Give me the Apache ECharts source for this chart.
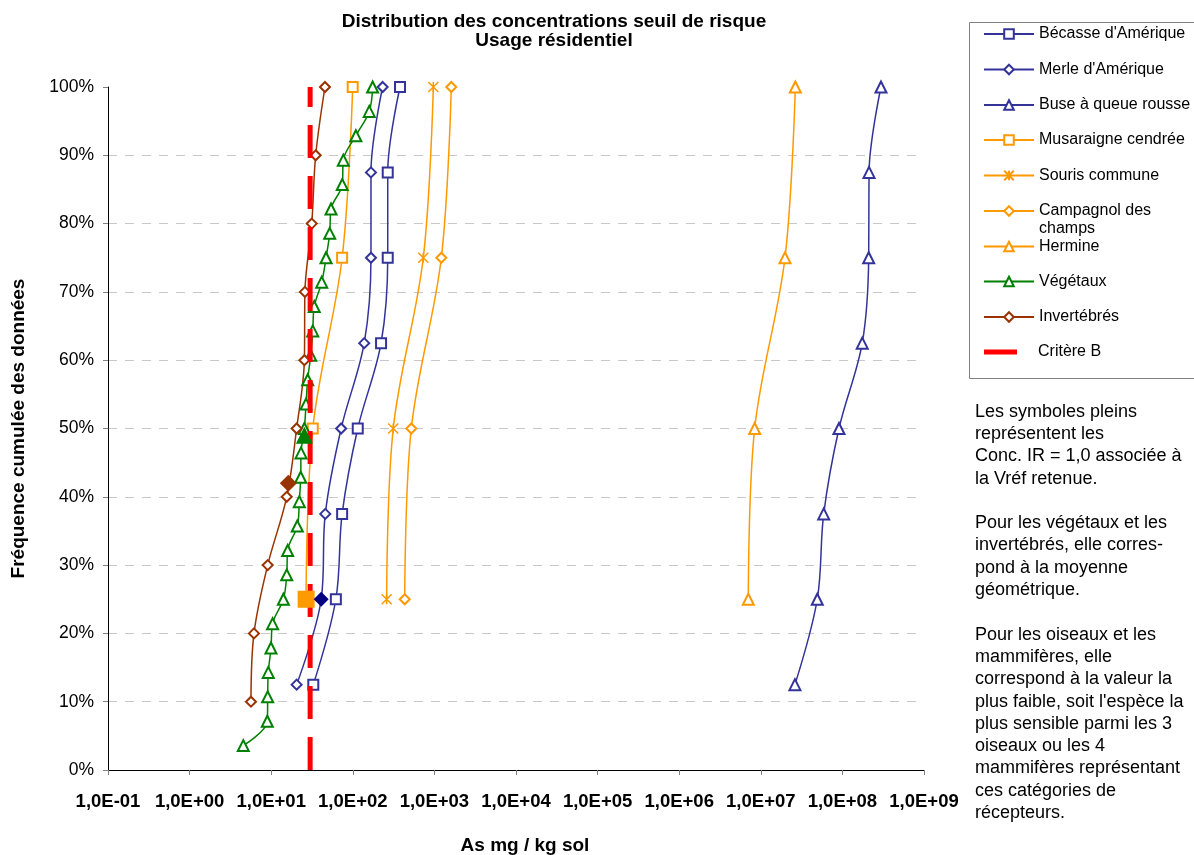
<!DOCTYPE html>
<html><head><meta charset="utf-8">
<script src="https://cdn.jsdelivr.net/npm/echarts@6/dist/echarts.min.js"></script>
<style>html,body{margin:0;padding:0;background:#fff}#c{width:1194px;height:855px}</style>
</head><body><div id="c"></div>
<script>
// ---------------- DATA ----------------
const freqBirds = [12.5, 25, 37.5, 50, 62.5, 75, 87.5, 100];
const becasse   = [32.8, 62, 74, 115, 222, 268, 268, 379];
const merle     = [20.5, 41, 46, 72, 138, 167, 167, 232];
const buse      = [2.62e7, 4.92e7, 5.9e7, 9.08e7, 1.75e8, 2.1e8, 2.12e8, 2.97e8];

const freqMammals = [25, 50, 75, 100];
const musaraigne  = [26.7, 32.3, 74, 99.7];
const souris      = [260, 313, 731, 970];
const campagnol   = [433, 521, 1216, 1611];
const hermine     = [7.03e6, 8.41e6, 1.98e7, 2.65e7];

const freqVegetaux = [3.57, 7.14, 10.71, 14.29, 17.86, 21.43, 25, 28.57, 32.14, 35.71, 39.29, 42.86, 46.43, 50,
                      53.57, 57.14, 60.71, 64.29, 67.86, 71.43, 75, 78.57, 82.14, 85.71, 89.29, 92.86, 96.43, 100];
const vegetaux = [4.55, 8.96, 9.06, 9.21, 9.94, 10.4, 14.1, 15.5, 15.9, 20.9, 22.1, 23.0, 23.2, 25.5,
                  26.7, 28.0, 30.5, 32.3, 33.7, 41.6, 47.0, 52.1, 54.1, 74.3, 76.5, 109, 159, 175];

const freqInvert = [10, 20, 30, 40, 50, 60, 70, 80, 90, 100];
const invertebres = [5.65, 6.15, 9.06, 15.5, 20.5, 25.5, 25.9, 31.4, 35.1, 45.6];

const critereB = [[30, 0], [30, 100]];

// Filled symbols: [value, frequency]
const refMusaraigne = [[26.8, 25]];
const refMerle      = [[41, 25]];
const refVegetaux   = [[25.5, 49]];
const refInvert     = [[16.2, 42]];

const seriesNames = ["Bécasse d'Amérique", "Merle d'Amérique", "Buse à queue rousse", "Musaraigne cendrée",
  "Souris commune", "Campagnol des champs", "Hermine", "Végétaux", "Invertébrés", "Critère B"];

const noteText = "Les symboles pleins\nreprésentent les\nConc. IR = 1,0 associée à\nla Vréf retenue.\n\n" +
  "Pour les végétaux et les\ninvertébrés, elle corres-\npond à la moyenne\ngéométrique.\n\n" +
  "Pour les oiseaux et les\nmammifères, elle\ncorrespond à la valeur la\nplus faible, soit l'espèce la\n" +
  "plus sensible parmi les 3\noiseaux ou les 4\nmammifères représentant\nces catégories de\nrécepteurs.";

// ---------------- STYLE ----------------
const FONT = '"Liberation Sans", Arial, sans-serif';
const BLUE = '#333399', ORANGE = '#FF9900', GREEN = '#008000', BROWN = '#993300', RED = '#FF0000', NAVY = '#000080';
const ASTER = 'path://M0,0L10,10M10,0L0,10M5,0L5,10';

function pairs(vals, freqs) { return vals.map((v, i) => [v, freqs[i]]); }
function lineSeries(name, vals, freqs, color, symbol, size) {
  return {
    name, type: 'line', data: pairs(vals, freqs), smooth: 0.35,
    symbol, symbolSize: size, showAllSymbol: true,
    lineStyle: { color, width: 1.5 },
    itemStyle: { color, borderColor: color, borderWidth: 1.5 },
    emphasis: { disabled: true }, z: 2
  };
}
function filled(data, color, symbol, size) {
  return { type: 'scatter', data, symbol, symbolSize: size, itemStyle: { color, opacity: 1 }, z: 5, emphasis: { disabled: true } };
}

function fmtExp(v) {
  const e = Math.round(Math.log10(v));
  const a = Math.abs(e);
  return '1,0E' + (e < 0 ? '-' : '+') + (a < 10 ? '0' : '') + a;
}

const legendCenters = [34, 69.5, 105, 140, 175.5, 211, 246.5, 281.5, 317, 352];
const legends = seriesNames.map((n, i) => {
  const base = {
    data: [n], left: 983, top: legendCenters[i] - 9, padding: 0, itemWidth: 50, itemHeight: 12,
    selectedMode: false,
    textStyle: { fontSize: 16, fontFamily: FONT, color: '#000', lineHeight: 18 }
  };
  if (n === 'Campagnol des champs') {
    base.formatter = '\nCampagnol des\nchamps';
    base.top = legendCenters[i] - 27;
  }
  if (n === 'Critère B') {
    base.icon = 'rect'; base.itemWidth = 33; base.itemHeight = 5; base.left = 984;
    base.textStyle.padding = [0, 0, 0, 16];
  }
  return base;
});

const chart = echarts.init(document.getElementById('c'), null, { renderer: 'canvas' });
chart.setOption({
  animation: false,
  backgroundColor: '#fff',
  title: {
    text: 'Distribution des concentrations seuil de risque\nUsage résidentiel',
    left: 554, top: 12, padding: 0, textAlign: 'center',
    textStyle: { fontSize: 19, fontWeight: 'bold', fontFamily: FONT, color: '#000', lineHeight: 19 }
  },
  grid: { left: 108, right: 270, top: 87, bottom: 85, containLabel: false, outerBoundsMode: 'none' },
  legend: legends,
  xAxis: {
    type: 'log', logBase: 10, min: 0.1, max: 1e9, splitNumber: 10,
    axisLine: { show: true, lineStyle: { color: '#000', width: 1 } },
    axisTick: { show: true, length: 5, lineStyle: { color: '#808080' } },
    minorTick: { show: false }, splitLine: { show: false },
    axisLabel: { formatter: fmtExp, fontSize: 18.5, fontWeight: 'bold', fontFamily: FONT, color: '#000', margin: 22 },
    name: 'As mg / kg sol', nameLocation: 'middle', nameGap: 66,
    nameTextStyle: { fontSize: 19, fontWeight: 'bold', fontFamily: FONT, color: '#000', padding: [0, 0, 0, 18] }
  },
  yAxis: {
    type: 'value', min: 0, max: 100, interval: 10,
    axisLine: { show: true, lineStyle: { color: '#000', width: 1 } },
    axisTick: { show: true, length: 5, lineStyle: { color: '#808080' } },
    splitLine: { show: true, showMinLine: false, showMaxLine: false, lineStyle: { color: '#C8C8C8', type: [9, 8], width: 1 } },
    axisLabel: { formatter: '{value}%', fontSize: 17.5, fontFamily: FONT, color: '#000', margin: 14 },
    name: 'Fréquence cumulée des données', nameLocation: 'middle', nameGap: 80,
    nameTextStyle: { fontSize: 19, fontWeight: 'bold', fontFamily: FONT, color: '#000' }
  },
  graphic: [
    { type: 'rect', left: 969, top: 22, z: -1, shape: { width: 240, height: 356 }, style: { fill: '#fff', stroke: '#808080', lineWidth: 1 } },
    { type: 'text', left: 975, top: 400.5, style: { text: noteText, fontSize: 18, fontFamily: FONT, lineHeight: 22.3, fill: '#000' } }
  ],
  series: [
    lineSeries(seriesNames[0], becasse, freqBirds, BLUE, 'emptyRect', 10),
    lineSeries(seriesNames[1], merle, freqBirds, BLUE, 'emptyDiamond', 10),
    lineSeries(seriesNames[2], buse, freqBirds, BLUE, 'emptyTriangle', 11),
    lineSeries(seriesNames[3], musaraigne, freqMammals, ORANGE, 'emptyRect', 10),
    lineSeries(seriesNames[4], souris, freqMammals, ORANGE, ASTER, 10),
    lineSeries(seriesNames[5], campagnol, freqMammals, ORANGE, 'emptyDiamond', 10),
    lineSeries(seriesNames[6], hermine, freqMammals, ORANGE, 'emptyTriangle', 11),
    lineSeries(seriesNames[7], vegetaux, freqVegetaux, GREEN, 'emptyTriangle', 11),
    lineSeries(seriesNames[8], invertebres, freqInvert, BROWN, 'emptyDiamond', 10),
    {
      name: seriesNames[9], type: 'line', data: critereB, symbol: 'none',
      lineStyle: { color: RED, width: 5, type: [33, 18] }, itemStyle: { color: RED }, z: 3,
      emphasis: { disabled: true }
    },
    filled(refMusaraigne, ORANGE, 'rect', 17),
    filled(refMerle, NAVY, 'diamond', 15),
    filled(refVegetaux, GREEN, 'triangle', 17),
    filled(refInvert, BROWN, 'diamond', 17)
  ]
});
</script>
</body></html>
